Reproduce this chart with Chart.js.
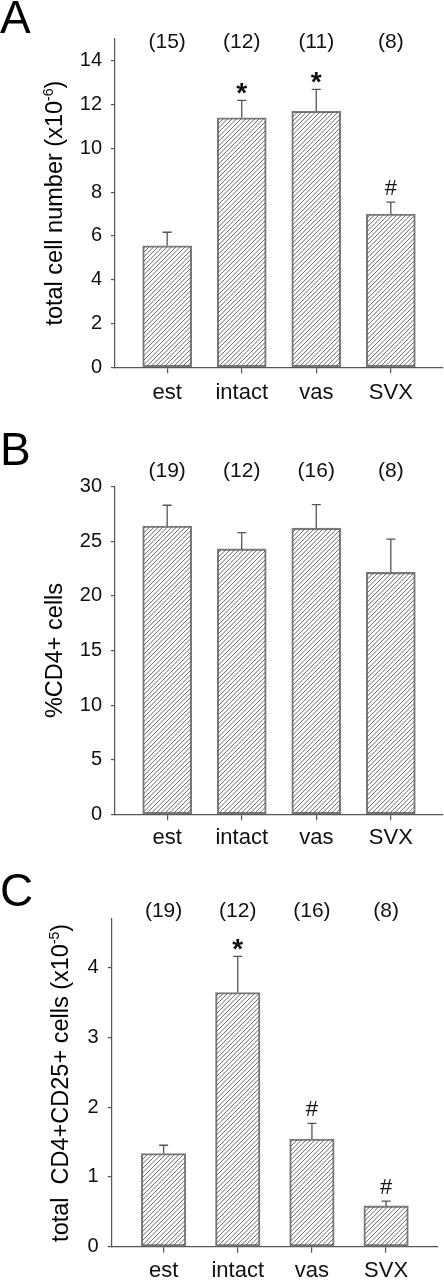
<!DOCTYPE html>
<html>
<head>
<meta charset="utf-8">
<script src="https://cdn.jsdelivr.net/npm/chart.js@4.4.1/dist/chart.umd.min.js"></script>
<style>
  body { margin: 0; background: #fff; }
  #wrap { position: relative; width: 444px; height: 1280px; }
  canvas { position: absolute; left: 0; }
</style>
</head>
<body>
<div id="wrap">
  <canvas id="panelA" width="444" height="420" style="top:0"></canvas>
  <canvas id="panelB" width="444" height="432" style="top:420px"></canvas>
  <canvas id="panelC" width="444" height="428" style="top:852px"></canvas>
</div>
<script>
// groups on the x axis (same for all panels)
const groups = ['est', 'intact', 'vas', 'SVX'];

// A: total cell number (x10^-6)
const cellNumber = [5.55, 11.4, 11.7, 7.0];
const cellNumberErr = [0.62, 0.8, 1.0, 0.55];
const cellNumberN = ['(15)', '(12)', '(11)', '(8)'];
const cellNumberMarks = ['', '*', '*', '#'];
const cellNumberTicks = [0, 2, 4, 6, 8, 10, 12, 14];

// B: %CD4+ cells
const cd4Pct = [26.4, 24.3, 26.2, 22.15];
const cd4PctErr = [1.9, 1.5, 2.15, 3.05];
const cd4PctN = ['(19)', '(12)', '(16)', '(8)'];
const cd4PctMarks = ['', '', '', ''];
const cd4PctTicks = [0, 5, 10, 15, 20, 25, 30];

// C: total CD4+CD25+ cells (x10^-5)
const tregCells = [1.335, 3.645, 1.545, 0.585];
const tregErr = [0.12, 0.52, 0.225, 0.07];
const tregN = ['(19)', '(12)', '(16)', '(8)'];
const tregMarks = ['', '*', '#', '#'];
const tregTicks = [0, 1, 2, 3, 4];

const fontFamily = '"Liberation Sans", Arial, Helvetica, sans-serif';
const axisColor = '#555';
const barEdge = '#7a7a7a';

Chart.defaults.font.family = fontFamily;
Chart.defaults.color = '#111';

function hatchPattern() {
	// 9px tile with "/" lines every 4.5px
	const size = 9;
	const c = document.createElement('canvas');
	c.width = size;
	c.height = size;
	const g = c.getContext('2d');
	g.strokeStyle = '#3c3c3c';
	g.lineWidth = 0.75;
	g.beginPath();
	[-4.5, 0, 4.5, 9, 13.5].forEach(k => {
		g.moveTo(k - 2, size + 2);
		g.lineTo(k + size + 2, -2);
	});
	g.stroke();
	return g.createPattern(c, 'repeat');
}

// error bars, n counts, significance marks, panel letter, y title
const extrasPlugin = {
	id: 'extras',
	afterDatasetsDraw(chart, args, opts) {
		const { ctx, chartArea, scales: { y } } = chart;
		const meta = chart.getDatasetMeta(0);
		ctx.save();
		meta.data.forEach((bar, i) => {
			const v = opts.values[i];
			const base = y.getPixelForValue(v);
			const top = y.getPixelForValue(v + opts.errors[i]);
			ctx.strokeStyle = '#555';
			ctx.lineWidth = 1.3;
			ctx.beginPath();
			ctx.moveTo(bar.x, base);
			ctx.lineTo(bar.x, top);
			ctx.moveTo(bar.x - 4.5, top);
			ctx.lineTo(bar.x + 4.5, top);
			ctx.stroke();

			ctx.fillStyle = '#111';
			ctx.textAlign = 'center';
			const mark = opts.marks[i];
			if (mark === '*') {
				ctx.font = 'bold 28px ' + fontFamily;
				ctx.textBaseline = 'alphabetic';
				ctx.fillText(mark, bar.x, top + 2);
			} else if (mark === '#') {
				ctx.font = '22px ' + fontFamily;
				ctx.textBaseline = 'alphabetic';
				ctx.fillText(mark, bar.x, top - 7);
			}

			ctx.font = '21px ' + fontFamily;
			ctx.textBaseline = 'middle';
			ctx.fillText(opts.counts[i], bar.x, chartArea.top + opts.countOffset);
		});
		ctx.restore();
	},
	afterDraw(chart, args, opts) {
		const { ctx, chartArea } = chart;
		ctx.save();
		ctx.fillStyle = '#000';
		ctx.textAlign = 'left';
		ctx.textBaseline = 'alphabetic';
		ctx.font = '46px ' + fontFamily;
		ctx.fillText(opts.letter, 0, opts.letterBaseline);

		// rotated y title with superscript
		const [main, sup, tail] = opts.title;
		const mainFont = '23.5px ' + fontFamily;
		const supFont = '14px ' + fontFamily;
		ctx.font = mainFont;
		const w1 = ctx.measureText(main).width;
		const w3 = ctx.measureText(tail).width;
		ctx.font = supFont;
		const w2 = ctx.measureText(sup).width;
		const total = w1 + w2 + w3;
		ctx.translate(opts.titleX, (chartArea.top + chartArea.bottom) / 2);
		ctx.rotate(-Math.PI / 2);
		let sx = -total / 2;
		ctx.font = mainFont;
		ctx.fillText(main, sx, 0);
		sx += w1;
		if (sup) {
			ctx.font = supFont;
			ctx.fillText(sup, sx, -9);
			sx += w2;
		}
		ctx.font = mainFont;
		ctx.fillText(tail, sx, 0);
		ctx.restore();
	}
};

function makePanel(id, p) {
	const canvas = document.getElementById(id);
	if (!canvas) return;
	const ctx = canvas.getContext('2d');
	new Chart(ctx, {
		type: 'bar',
		data: {
			datasets: [{
				data: p.values.map((v, i) => ({ x: i, y: v })),
				backgroundColor: hatchPattern(),
				borderColor: barEdge,
				borderWidth: 1.4,
				borderSkipped: false,
				barThickness: p.barWidth
			}]
		},
		options: {
			responsive: false,
			animation: false,
			devicePixelRatio: 1,
			layout: {
				padding: { top: p.areaTop, right: canvas.width - p.areaRight, left: 0, bottom: 0 }
			},
			plugins: {
				legend: { display: false },
				tooltip: { enabled: false },
				extras: {
					values: p.values,
					errors: p.errors,
					counts: p.counts,
					marks: p.marks,
					countOffset: p.countOffset,
					letter: p.letter,
					letterBaseline: p.letterBaseline,
					title: p.title,
					titleX: p.titleX
				}
			},
			scales: {
				x: {
					type: 'linear',
					offset: false,
					min: -0.7,
					max: 3.7,
					afterFit: s => { s.height = canvas.height - p.areaBottom; },
					afterBuildTicks: s => { s.ticks = groups.map((g, i) => ({ value: i })); },
					border: { display: true, color: axisColor, width: 1.2 },
					grid: { offset: false, drawOnChartArea: false, drawTicks: true, tickLength: 6, color: axisColor, lineWidth: 1.2 },
					ticks: {
						callback: v => groups[v],
						font: { size: 22 },
						color: '#111',
						padding: p.xPad,
						maxRotation: 0,
						autoSkip: false
					}
				},
				y: {
					min: 0,
					max: p.yMax,
					afterFit: s => { s.width = p.areaLeft; },
					afterBuildTicks: s => { s.ticks = p.ticks.map(v => ({ value: v })); },
					border: { display: true, color: axisColor, width: 1.2 },
					grid: { drawOnChartArea: false, drawTicks: true, tickLength: 4, color: axisColor, lineWidth: 1.2 },
					ticks: {
						font: { size: 20 },
						color: '#111',
						padding: 9
					}
				}
			}
		},
		plugins: [extrasPlugin]
	});
}

makePanel('panelA', {
	values: cellNumber, errors: cellNumberErr, counts: cellNumberN, marks: cellNumberMarks,
	ticks: cellNumberTicks, yMax: 15,
	areaLeft: 115, areaRight: 443, areaTop: 39, areaBottom: 367.3,
	barWidth: 49, xPad: 6.5, countOffset: 3,
	letter: 'A', letterBaseline: 33,
	title: ['total cell number (x10', '-6', ')'], titleX: 61.5
});

makePanel('panelB', {
	values: cd4Pct, errors: cd4PctErr, counts: cd4PctN, marks: cd4PctMarks,
	ticks: cd4PctTicks, yMax: 30,
	areaLeft: 115, areaRight: 443, areaTop: 66.7, areaBottom: 394.3,
	barWidth: 49, xPad: 4.5, countOffset: -15,
	letter: 'B', letterBaseline: 45,
	title: ['%CD4+ cells', '', ''], titleX: 61.5
});

makePanel('panelC', {
	values: tregCells, errors: tregErr, counts: tregN, marks: tregMarks,
	ticks: tregTicks, yMax: 4.7,
	areaLeft: 111.7, areaRight: 438, areaTop: 67, areaBottom: 394.7,
	barWidth: 44.5, xPad: 5.5, countOffset: -7.3,
	letter: 'C', letterBaseline: 54,
	title: ['total  CD4+CD25+ cells (x10', '-5', ')'], titleX: 67.5
});
</script>
</body>
</html>
